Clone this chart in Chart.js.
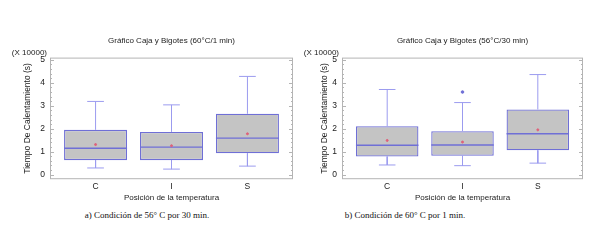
<!DOCTYPE html>
<html>
<head>
<meta charset="utf-8">
<script src="https://cdn.jsdelivr.net/npm/chart.js@4.4.1/dist/chart.umd.min.js"></script>
<style>
    body { margin: 0; background: #fff; width: 601px; height: 240px; position: relative; overflow: hidden; }
    .box { position: absolute; top: 0; height: 206px; }
    .caption { position: absolute; top: 210px; width: 240px; text-align: center; font: 9px "Liberation Serif", "DejaVu Serif", serif; color: #111; }
</style>
</head>
<body>
<div class="box" id="leftBox" style="left:0;width:300px"><canvas id="leftChart"></canvas></div>
<div class="box" id="rightBox" style="left:300px;width:301px"><canvas id="rightChart"></canvas></div>
<div class="caption" style="left:27px">a) Condición de 56° C por 30 min.</div>
<div class="caption" style="left:285px">b) Condición de 60° C por 1 min.</div>

<script>
// categories + axis
const positions = ["C", "I", "S"];
const yTicks = [0, 1, 2, 3, 4, 5];

// left plot (60°C/1 min), values in units of 10000 s
const leftMin = [0.29, 0.24, 0.37];
const leftQ1 = [0.63, 0.63, 0.93];
const leftMedian = [1.15, 1.20, 1.59];
const leftQ3 = [1.95, 1.86, 2.65];
const leftMax = [3.19, 3.04, 4.28];
const leftMean = [1.31, 1.26, 1.78];
const leftOutlierCat = [];
const leftOutlierVal = [];

// right plot (56°C/30 min)
const rightMin = [0.42, 0.39, 0.50];
const rightQ1 = [0.79, 0.82, 1.06];
const rightMedian = [1.28, 1.29, 1.78];
const rightQ3 = [2.11, 1.89, 2.84];
const rightMax = [3.71, 3.14, 4.36];
const rightMean = [1.49, 1.42, 1.95];
const rightOutlierCat = ["I"];
const rightOutlierVal = [3.60];

const FONT = "'Liberation Sans', Arial, sans-serif";
const BOX_BORDER = "#6f6fd6";
const WHISKER = "#9b9bef";
const BOX_FILL = "#c4c4c4";
const BOX_HALF = 0.415;
const CAP_HALF = 0.11;

// frame around the plot with small inner ticks, like the original software
const framePlugin = {
    id: "frame",
    afterDatasetsDraw(chart) {
        const {ctx, chartArea: {left, right, top, bottom}, scales: {y}} = chart;
        ctx.save();
        ctx.strokeStyle = "#b4b4b4";
        ctx.lineWidth = 1;
        ctx.strokeRect(left + 0.5, top + 0.5, right - left - 1, bottom - top - 1);
        ctx.beginPath();
        for (let v = 0; v <= yTicks[yTicks.length - 1] + 0.001; v += 0.2) {
            const py = Math.round(y.getPixelForValue(v)) + 0.5;
            const major = Math.abs(v - Math.round(v)) < 0.001;
            const len = major ? 4 : 2;
            ctx.moveTo(left, py); ctx.lineTo(left + len, py);
            ctx.moveTo(right, py); ctx.lineTo(right - len, py);
        }
        ctx.stroke();
        // multiplier note above the y axis
        ctx.fillStyle = "#222";
        ctx.font = "8px " + FONT;
        ctx.textAlign = "right";
        ctx.textBaseline = "bottom";
        ctx.fillText("(X 10000)", left - 3, top - 1);
        ctx.restore();
    }
};

function segments(build) {
    const out = [];
    positions.forEach((p, i) => {
        build(i + 1, i).forEach(pt => out.push(pt));
        out.push({x: i + 1, y: null});
    });
    return out;
}

function makeChart(canvasId, s) {
    const whiskers = segments((x, i) => [
        {x: x, y: s.q3[i]}, {x: x, y: s.max[i]}, {x: x, y: null},
        {x: x - CAP_HALF, y: s.max[i]}, {x: x + CAP_HALF, y: s.max[i]}, {x: x, y: null},
        {x: x, y: s.q1[i]}, {x: x, y: s.min[i]}, {x: x, y: null},
        {x: x - CAP_HALF, y: s.min[i]}, {x: x + CAP_HALF, y: s.min[i]}
    ]);
    const medians = segments((x, i) => [
        {x: x - BOX_HALF, y: s.median[i]}, {x: x + BOX_HALF, y: s.median[i]}
    ]);

    return new Chart(document.getElementById(canvasId), {
        data: {
            datasets: [
                {
                    type: "bar",
                    data: positions.map((p, i) => ({x: i + 1, y: [s.q1[i], s.q3[i]]})),
                    backgroundColor: BOX_FILL,
                    borderColor: BOX_BORDER,
                    borderWidth: 1.3,
                    borderSkipped: false,
                    barPercentage: 0.83,
                    categoryPercentage: 1,
                    order: 5
                },
                {
                    type: "line",
                    data: whiskers,
                    borderColor: WHISKER,
                    borderWidth: 1,
                    pointRadius: 0,
                    spanGaps: false,
                    order: 4
                },
                {
                    type: "line",
                    data: medians,
                    borderColor: BOX_BORDER,
                    borderWidth: 1.3,
                    pointRadius: 0,
                    spanGaps: false,
                    order: 3
                },
                {
                    type: "scatter",
                    data: positions.map((p, i) => ({x: i + 1, y: s.mean[i]})),
                    backgroundColor: "#e0607a",
                    borderColor: "#e0607a",
                    pointRadius: 1,
                    order: 2
                },
                {
                    type: "scatter",
                    data: s.outCat.map((c, i) => ({x: positions.indexOf(c) + 1, y: s.outVal[i]})),
                    backgroundColor: BOX_BORDER,
                    borderColor: BOX_BORDER,
                    pointRadius: 1.3,
                    order: 1
                }
            ]
        },
        options: {
            responsive: true,
            maintainAspectRatio: false,
            animation: false,
            layout: {padding: {left: 0, right: s.padRight, top: 0, bottom: 0}},
            plugins: {
                legend: {display: false},
                tooltip: {enabled: false},
                title: {
                    display: true,
                    text: s.title,
                    fullSize: false,
                    color: "#222",
                    font: {family: FONT, size: 8, weight: "normal"},
                    padding: {top: 36, bottom: 12}
                }
            },
            scales: {
                x: {
                    type: "linear",
                    min: 0.4,
                    max: 3.6,
                    offset: false,
                    grid: {display: false, drawTicks: false, tickLength: 0},
                    border: {display: false},
                    afterBuildTicks: sc => { sc.ticks = positions.map((p, i) => ({value: i + 1})); },
                    ticks: {
                        color: "#222",
                        padding: 2,
                        maxRotation: 0,
                        font: {family: FONT, size: 8.5},
                        callback: v => positions[v - 1]
                    },
                    title: {
                        display: true,
                        text: "Posición de la temperatura",
                        color: "#222",
                        font: {family: FONT, size: 8},
                        padding: {top: 0, bottom: 3}
                    }
                },
                y: {
                    min: -0.2,
                    max: 5.1,
                    grid: {display: false, drawTicks: false, tickLength: 0},
                    border: {display: false},
                    afterBuildTicks: sc => { sc.ticks = yTicks.map(v => ({value: v})); },
                    afterFit: sc => { sc.width = s.axisWidth; },
                    ticks: {
                        color: "#222",
                        padding: 5,
                        font: {family: FONT, size: 8.5}
                    },
                    title: {
                        display: true,
                        text: "Tiempo De Calentamiento (s)",
                        color: "#222",
                        font: {family: FONT, size: 8.5},
                        padding: {top: s.yTitlePad, bottom: 0}
                    }
                }
            }
        },
        plugins: [framePlugin]
    });
}

makeChart("leftChart", {
    title: "Gráfico Caja y Bigotes (60°C/1 min)",
    min: leftMin, q1: leftQ1, median: leftMedian, q3: leftQ3, max: leftMax, mean: leftMean,
    outCat: leftOutlierCat, outVal: leftOutlierVal,
    axisWidth: 50, padRight: 7, yTitlePad: 23
});

makeChart("rightChart", {
    title: "Gráfico Caja y Bigotes (56°C/30 min)",
    min: rightMin, q1: rightQ1, median: rightMedian, q3: rightQ3, max: rightMax, mean: rightMean,
    outCat: rightOutlierCat, outVal: rightOutlierVal,
    axisWidth: 42, padRight: 18, yTitlePad: 20
});
</script>
</body>
</html>
